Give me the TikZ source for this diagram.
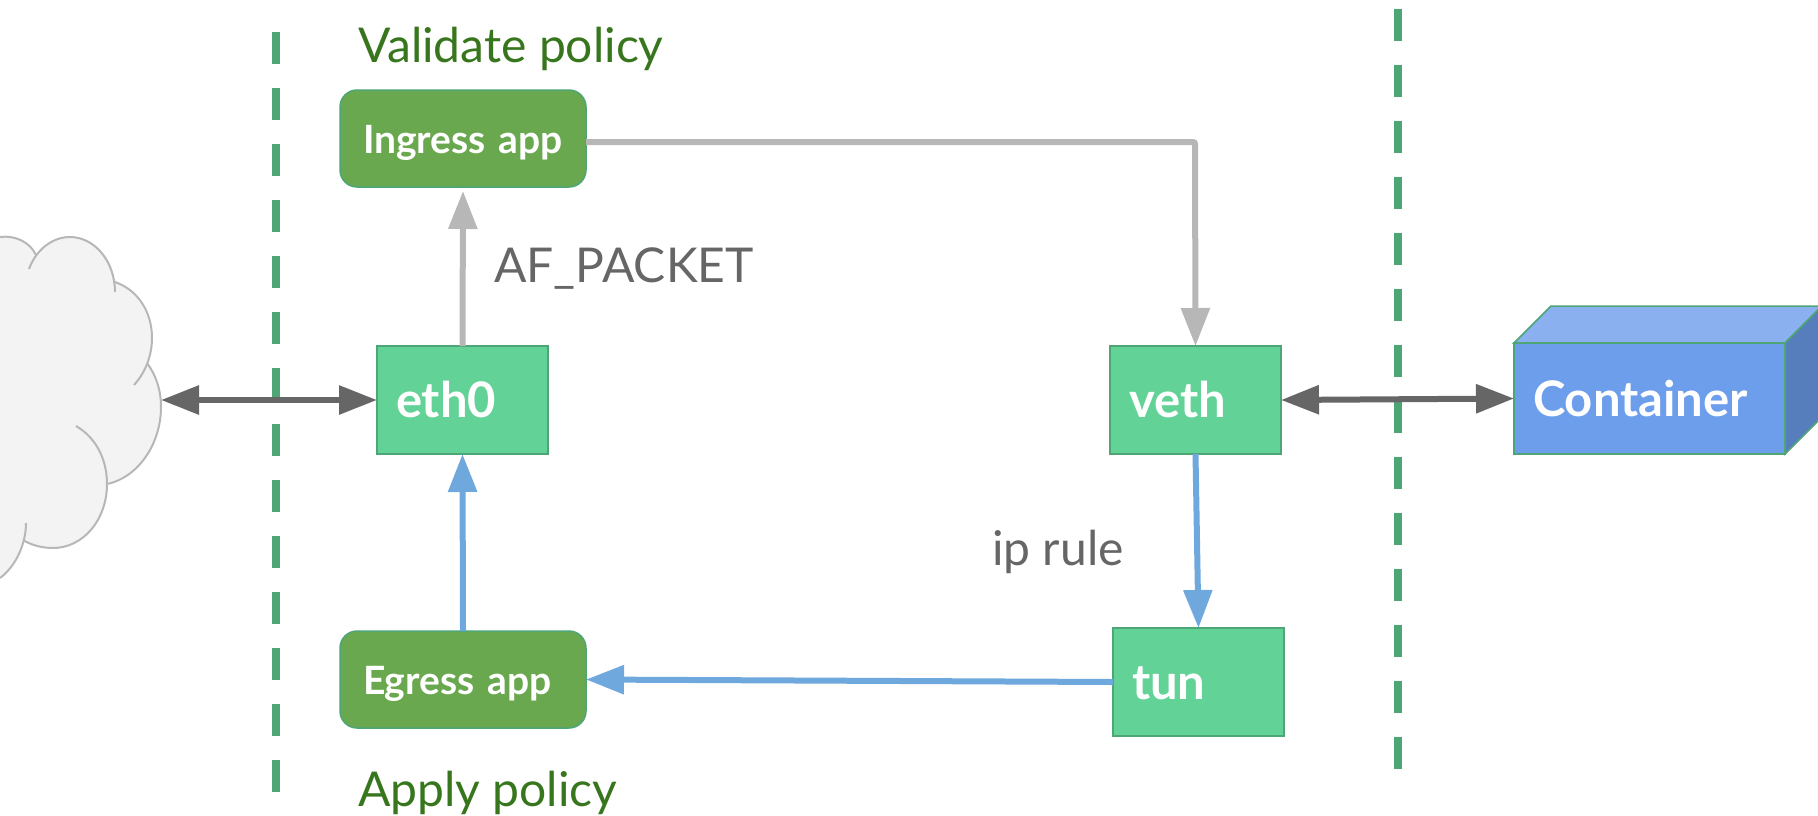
\documentclass[tikz,border=0pt]{standalone}
\usepackage{fontspec}
\setmainfont{Lato}
\usetikzlibrary{arrows.meta}
\definecolor{dashgreen}{HTML}{4EA677}
\definecolor{boxgreen}{HTML}{63D297}
\definecolor{appgreen}{HTML}{6AA84F}
\definecolor{titlegreen}{HTML}{38761D}
\definecolor{greytext}{HTML}{666666}
\definecolor{greyline}{HTML}{B7B7B7}
\definecolor{blueline}{HTML}{6FA8DC}
\definecolor{contfront}{HTML}{6D9EEB}
\definecolor{conttop}{HTML}{8AB0EF}
\definecolor{contside}{HTML}{567DBC}
\definecolor{cloudfill}{HTML}{F3F3F3}
\tikzset{
  x=1pt,y=-1pt,
  boundary/.style={draw=dashgreen,line width=8pt,dash pattern=on 32pt off 24pt},
  netbox/.style={draw=dashgreen,line width=1.5pt,fill=boxgreen,text=white,font=\fontsize{49}{49}\selectfont\bfseries,minimum height=108pt,minimum width=171pt,inner xsep=19pt,inner ysep=0pt,text width=133pt,text height=34pt,text depth=0pt,align=left,outer sep=0pt},
  appbox/.style={draw=dashgreen,line width=1.5pt,fill=appgreen,rounded corners=17pt,text=white,font=\fontsize{39}{39}\selectfont\bfseries,minimum height=97pt,minimum width=246pt,inner xsep=23pt,inner ysep=0pt,text width=200pt,text height=29pt,text depth=0pt,align=left,outer sep=0pt},
  title/.style={text=titlegreen,font=\fontsize{48}{48}\selectfont,inner sep=0pt,anchor=base west},
  note/.style={text=greytext,font=\fontsize{48}{48}\selectfont,inner sep=0pt,anchor=base west},
  conn/.style={line width=6pt,-{Triangle[length=38pt,width=28pt]}},
  dark/.style={conn,draw=greytext,{Triangle[length=38pt,width=28pt]}-{Triangle[length=38pt,width=28pt]}},
  grey/.style={conn,draw=greyline},
  blue/.style={conn,draw=blueline},
  cloudline/.style={draw=greyline,line width=2pt},
}
\begin{document}
\begin{tikzpicture}
\useasboundingbox (0,0) rectangle (1818,815);
% boundaries
\coordinate (la) at (276,32); \coordinate (lb) at (276,792);
\coordinate (ra) at (1398,9); \coordinate (rb) at (1398,770);
\draw[boundary] (la) -- (lb);
\draw[boundary] (ra) -- (rb);
% cloud
\fill[cloudfill] (0,237) .. controls (15,235) and (30,242) .. (36,255)
  .. controls (45,242) and (57,237) .. (70,237)
  .. controls (95,237) and (113,258) .. (115,282)
  .. controls (138,290) and (152,312) .. (152,338)
  .. controls (152,345) and (150,355) .. (147,363)
  .. controls (156,375) and (161,390) .. (161,407)
  .. controls (161,445) and (137,478) .. (107,484)
  .. controls (107,520) and (83,548) .. (53,548)
  .. controls (42,548) and (31,545) .. (23,540)
  .. controls (19,555) and (11,570) .. (0,578) -- cycle;
\draw[cloudline] (0,237) .. controls (15,235) and (30,242) .. (36,255);
\draw[cloudline] (29,269) .. controls (36,250) and (52,237) .. (70,237)
  .. controls (95,237) and (115,262) .. (115,292);
\draw[cloudline] (115,282) .. controls (138,290) and (152,312) .. (152,338)
  .. controls (152,356) and (145,373) .. (134,385);
\draw[cloudline] (147,363) .. controls (156,375) and (161,390) .. (161,407)
  .. controls (161,445) and (137,478) .. (107,484);
\draw[cloudline] (76,426) .. controls (95,437) and (107,458) .. (107,484)
  .. controls (107,520) and (83,548) .. (53,548)
  .. controls (42,548) and (31,545) .. (23,540);
\draw[cloudline] (26,523) .. controls (26,545) and (15,567) .. (0,578);
\coordinate (cloudtip) at (161,400);
% nodes
\node[appbox] (ingress) at (463,138.5) {\mbox{Ingress app}};
\node[appbox] (egress) at (463,679.5) {\mbox{Egress app}};
\node[netbox] (eth) at (462.5,400) {eth0};
\node[netbox] (veth) at (1195.5,400) {veth};
\node[netbox] (tun) at (1198.5,682) {tun};
% container
\fill[conttop,draw=dashgreen,line width=1.5pt] (1514,343) -- (1551,306) -- (1822,306) -- (1785,343) -- cycle;
\fill[contside,draw=dashgreen,line width=1.5pt] (1785,343) -- (1822,306) -- (1822,417) -- (1785,454) -- cycle;
\node[draw=dashgreen,line width=1.5pt,fill=contfront,text=white,font=\fontsize{49}{49}\selectfont\bfseries,minimum height=111pt,minimum width=271pt,inner xsep=19pt,inner ysep=0pt,text width=233pt,text height=35pt,text depth=0pt,align=left,outer sep=0pt] (cont) at (1649.5,398.5) {Container};
% labels
\node[title] (t1) at (358,62) {Validate policy};
\node[title] (t2) at (358,806) {Apply policy};
\node[note] (n1) at (494,282) {AF\_PACKET};
\node[note] (n2) at (992,565) {ip rule};
% connectors
\draw[dark] (cloudtip) -- (eth.west);
\draw[grey,shorten >=4pt] (eth.north) -- (ingress.south);
\draw[grey,rounded corners=2pt] (ingress.east |- 463,142) -- (1195,142) -- (veth.north);
\draw[blue] (veth.south) -- (tun.north);
\draw[blue] (tun.west) -- (egress.east);
\draw[blue] (egress.north) -- (eth.south);
\draw[dark] (veth.east) -- (cont.west);
\end{tikzpicture}
\end{document}
